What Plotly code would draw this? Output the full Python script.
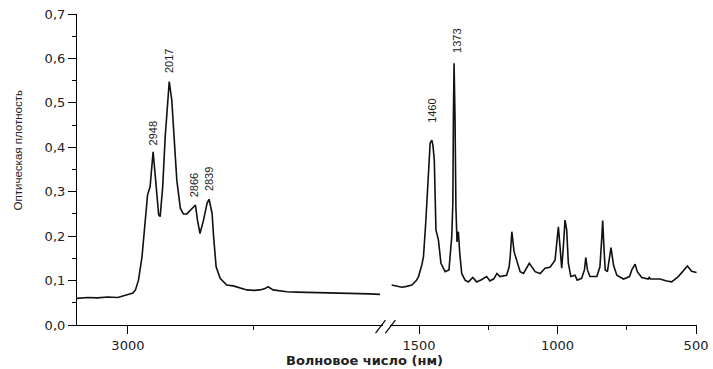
import plotly.graph_objects as go

# ---- data: left segment (C-H stretching region) ----
wn_left = [3101, 3080, 3061, 3040, 3020, 3002, 2990, 2985, 2979, 2972, 2966, 2961, 2956,
           2950, 2945, 2939, 2936, 2931, 2926, 2921, 2918, 2913, 2908, 2903, 2896, 2890,
           2883, 2876, 2873, 2866, 2862, 2857, 2850, 2843, 2839, 2833, 2830, 2825, 2817,
           2804, 2791, 2778, 2764, 2750, 2738, 2728, 2722, 2712, 2700, 2685, 2665, 2645,
           2625, 2606, 2590, 2573, 2556, 2540, 2520, 2500]
abs_left = [0.060, 0.062, 0.061, 0.063, 0.062, 0.067, 0.072, 0.079, 0.101, 0.154, 0.236, 0.293, 0.311,
            0.390, 0.326, 0.248, 0.244, 0.311, 0.424, 0.514, 0.548, 0.506, 0.424, 0.326, 0.263, 0.250,
            0.250, 0.259, 0.262, 0.270, 0.236, 0.206, 0.236, 0.274, 0.283, 0.251, 0.199, 0.131, 0.105,
            0.090, 0.088, 0.083, 0.079, 0.078, 0.079, 0.082, 0.086, 0.079, 0.077, 0.075, 0.074, 0.0735,
            0.074, 0.0735, 0.072, 0.073, 0.071, 0.071, 0.070, 0.069]

# ---- data: right segment (fingerprint region) ----
wn_right = [1599, 1580, 1562, 1545, 1526, 1510, 1502, 1490, 1484, 1476, 1469, 1460, 1454, 1450,
            1445, 1439, 1430, 1421, 1406, 1392, 1382, 1378, 1376, 1373.6, 1370, 1367, 1363,
            1358, 1353, 1346, 1334, 1322, 1306, 1292, 1275, 1256, 1244, 1230, 1219, 1208,
            1184, 1175, 1171, 1165, 1157, 1147, 1135, 1123, 1102, 1081, 1063, 1045, 1027,
            1009, 1003, 997, 991, 985, 979, 973, 967, 961, 952, 937, 929, 913, 903, 898,
            892, 883, 858, 847, 840, 837, 832, 828, 820, 813, 807, 798, 786, 762, 740,
            732, 720, 712, 696, 672, 669, 664, 630, 606, 588, 564, 546, 531, 516, 498]
abs_right = [0.090, 0.087, 0.085, 0.087, 0.090, 0.100, 0.109, 0.135, 0.154, 0.229, 0.319, 0.409, 0.416, 0.405,
             0.371, 0.214, 0.191, 0.139, 0.120, 0.124, 0.199, 0.274, 0.469, 0.589, 0.460, 0.266, 0.187,
             0.210, 0.161, 0.116, 0.101, 0.097, 0.107, 0.097, 0.102, 0.109, 0.099, 0.104, 0.116, 0.109,
             0.112, 0.130, 0.154, 0.210, 0.165, 0.146, 0.120, 0.116, 0.139, 0.120, 0.116, 0.128, 0.130,
             0.146, 0.184, 0.221, 0.176, 0.128, 0.176, 0.236, 0.214, 0.139, 0.109, 0.112, 0.101, 0.105, 0.124, 0.152,
             0.124, 0.109, 0.109, 0.131, 0.199, 0.235, 0.169, 0.124, 0.120, 0.154, 0.174, 0.135, 0.112, 0.1035, 0.109,
             0.124, 0.137, 0.120, 0.107, 0.1035, 0.107, 0.1035, 0.1035, 0.099, 0.097, 0.109, 0.122, 0.133, 0.121, 0.118]

# peak labels (text as printed in the original) and the wavenumber they sit above
peak_text = ["2948", "2017", "2866", "2839", "1460", "1373"]
peak_wn = [2950, 2918, 2870, 2839, 1454, 1363]
peak_label_y = [0.400, 0.563, 0.284, 0.297, 0.450, 0.608]
peak_axis = ["x", "x", "x", "x", "x2", "x2"]

y_ticks = [0.0, 0.1, 0.2, 0.3, 0.4, 0.5, 0.6, 0.7]
y_ticktext = ["0,0", "0,1", "0,2", "0,3", "0,4", "0,5", "0,6", "0,7"]
x_left_ticks = [3000]
x_right_ticks = [1500, 1000, 500]

y_title = "Оптическая плотность"
x_title = "Волновое число (нм)"

tick_font = dict(family="DejaVu Sans, Arial, sans-serif", size=13, color="#222")
narrow = "Liberation Sans Narrow, Arial Narrow, Liberation Sans, sans-serif"

fig = go.Figure()
fig.add_trace(go.Scatter(x=wn_left, y=abs_left, mode="lines", xaxis="x", yaxis="y",
                         line=dict(color="#111", width=1.6), showlegend=False))
fig.add_trace(go.Scatter(x=wn_right, y=abs_right, mode="lines", xaxis="x2", yaxis="y",
                         line=dict(color="#111", width=1.6), showlegend=False))

axis_common = dict(showline=True, linecolor="black", linewidth=1.2, ticks="outside",
                   ticklen=8, tickwidth=1.2, tickcolor="black", showgrid=False,
                   zeroline=False, tickfont=tick_font, automargin=False)

fig.update_layout(
    width=713, height=369,
    margin=dict(l=77, r=16, t=14, b=44),
    paper_bgcolor="white", plot_bgcolor="white",
    xaxis=dict(domain=[0, 0.4935], range=[3101, 2494], anchor="y",
               tickvals=x_left_ticks,
               minor=dict(tickvals=[2750], ticklen=4, tickcolor="black", ticks="outside"),
               **axis_common),
    xaxis2=dict(domain=[0.5048, 1], range=[1605, 496.5], anchor="y",
                tickvals=x_right_ticks,
                minor=dict(tickvals=[1250, 750], ticklen=4, tickcolor="black", ticks="outside"),
                **axis_common),
    yaxis=dict(range=[0, 0.7], anchor="x", tickvals=y_ticks, ticktext=y_ticktext,
               minor=dict(dtick=0.05, ticklen=4, tickcolor="black", ticks="outside"),
               **axis_common),
)

for txt, wx, wy, ax in zip(peak_text, peak_wn, peak_label_y, peak_axis):
    fig.add_annotation(x=wx, y=wy, xref=ax, yref="y", text=txt, showarrow=False,
                       textangle=-90, xanchor="center", yanchor="bottom",
                       font=dict(family=narrow, size=11, color="#222"))

fig.add_annotation(x=-0.096, y=0.563, xref="paper", yref="paper", text=y_title,
                   showarrow=False, textangle=-90, xanchor="center", yanchor="middle",
                   font=dict(family=narrow, size=11.5, color="#222"))
fig.add_annotation(x=0.463, y=-0.113, xref="paper", yref="paper", text="<b>" + x_title + "</b>",
                   showarrow=False, xanchor="center", yanchor="middle",
                   font=dict(family="DejaVu Sans, Arial, sans-serif", size=13, color="#222"))

# axis break marks "//"
for x0 in [0.4815, 0.4975]:
    fig.add_shape(type="line", xref="paper", yref="paper",
                  x0=x0, y0=-0.026, x1=x0 + 0.016, y1=0.016,
                  line=dict(color="black", width=1.2))

fig.write_html("out.html", config={"displayModeBar": False},
               post_script="document.body.style.margin='0';document.body.style.overflow='hidden';")
